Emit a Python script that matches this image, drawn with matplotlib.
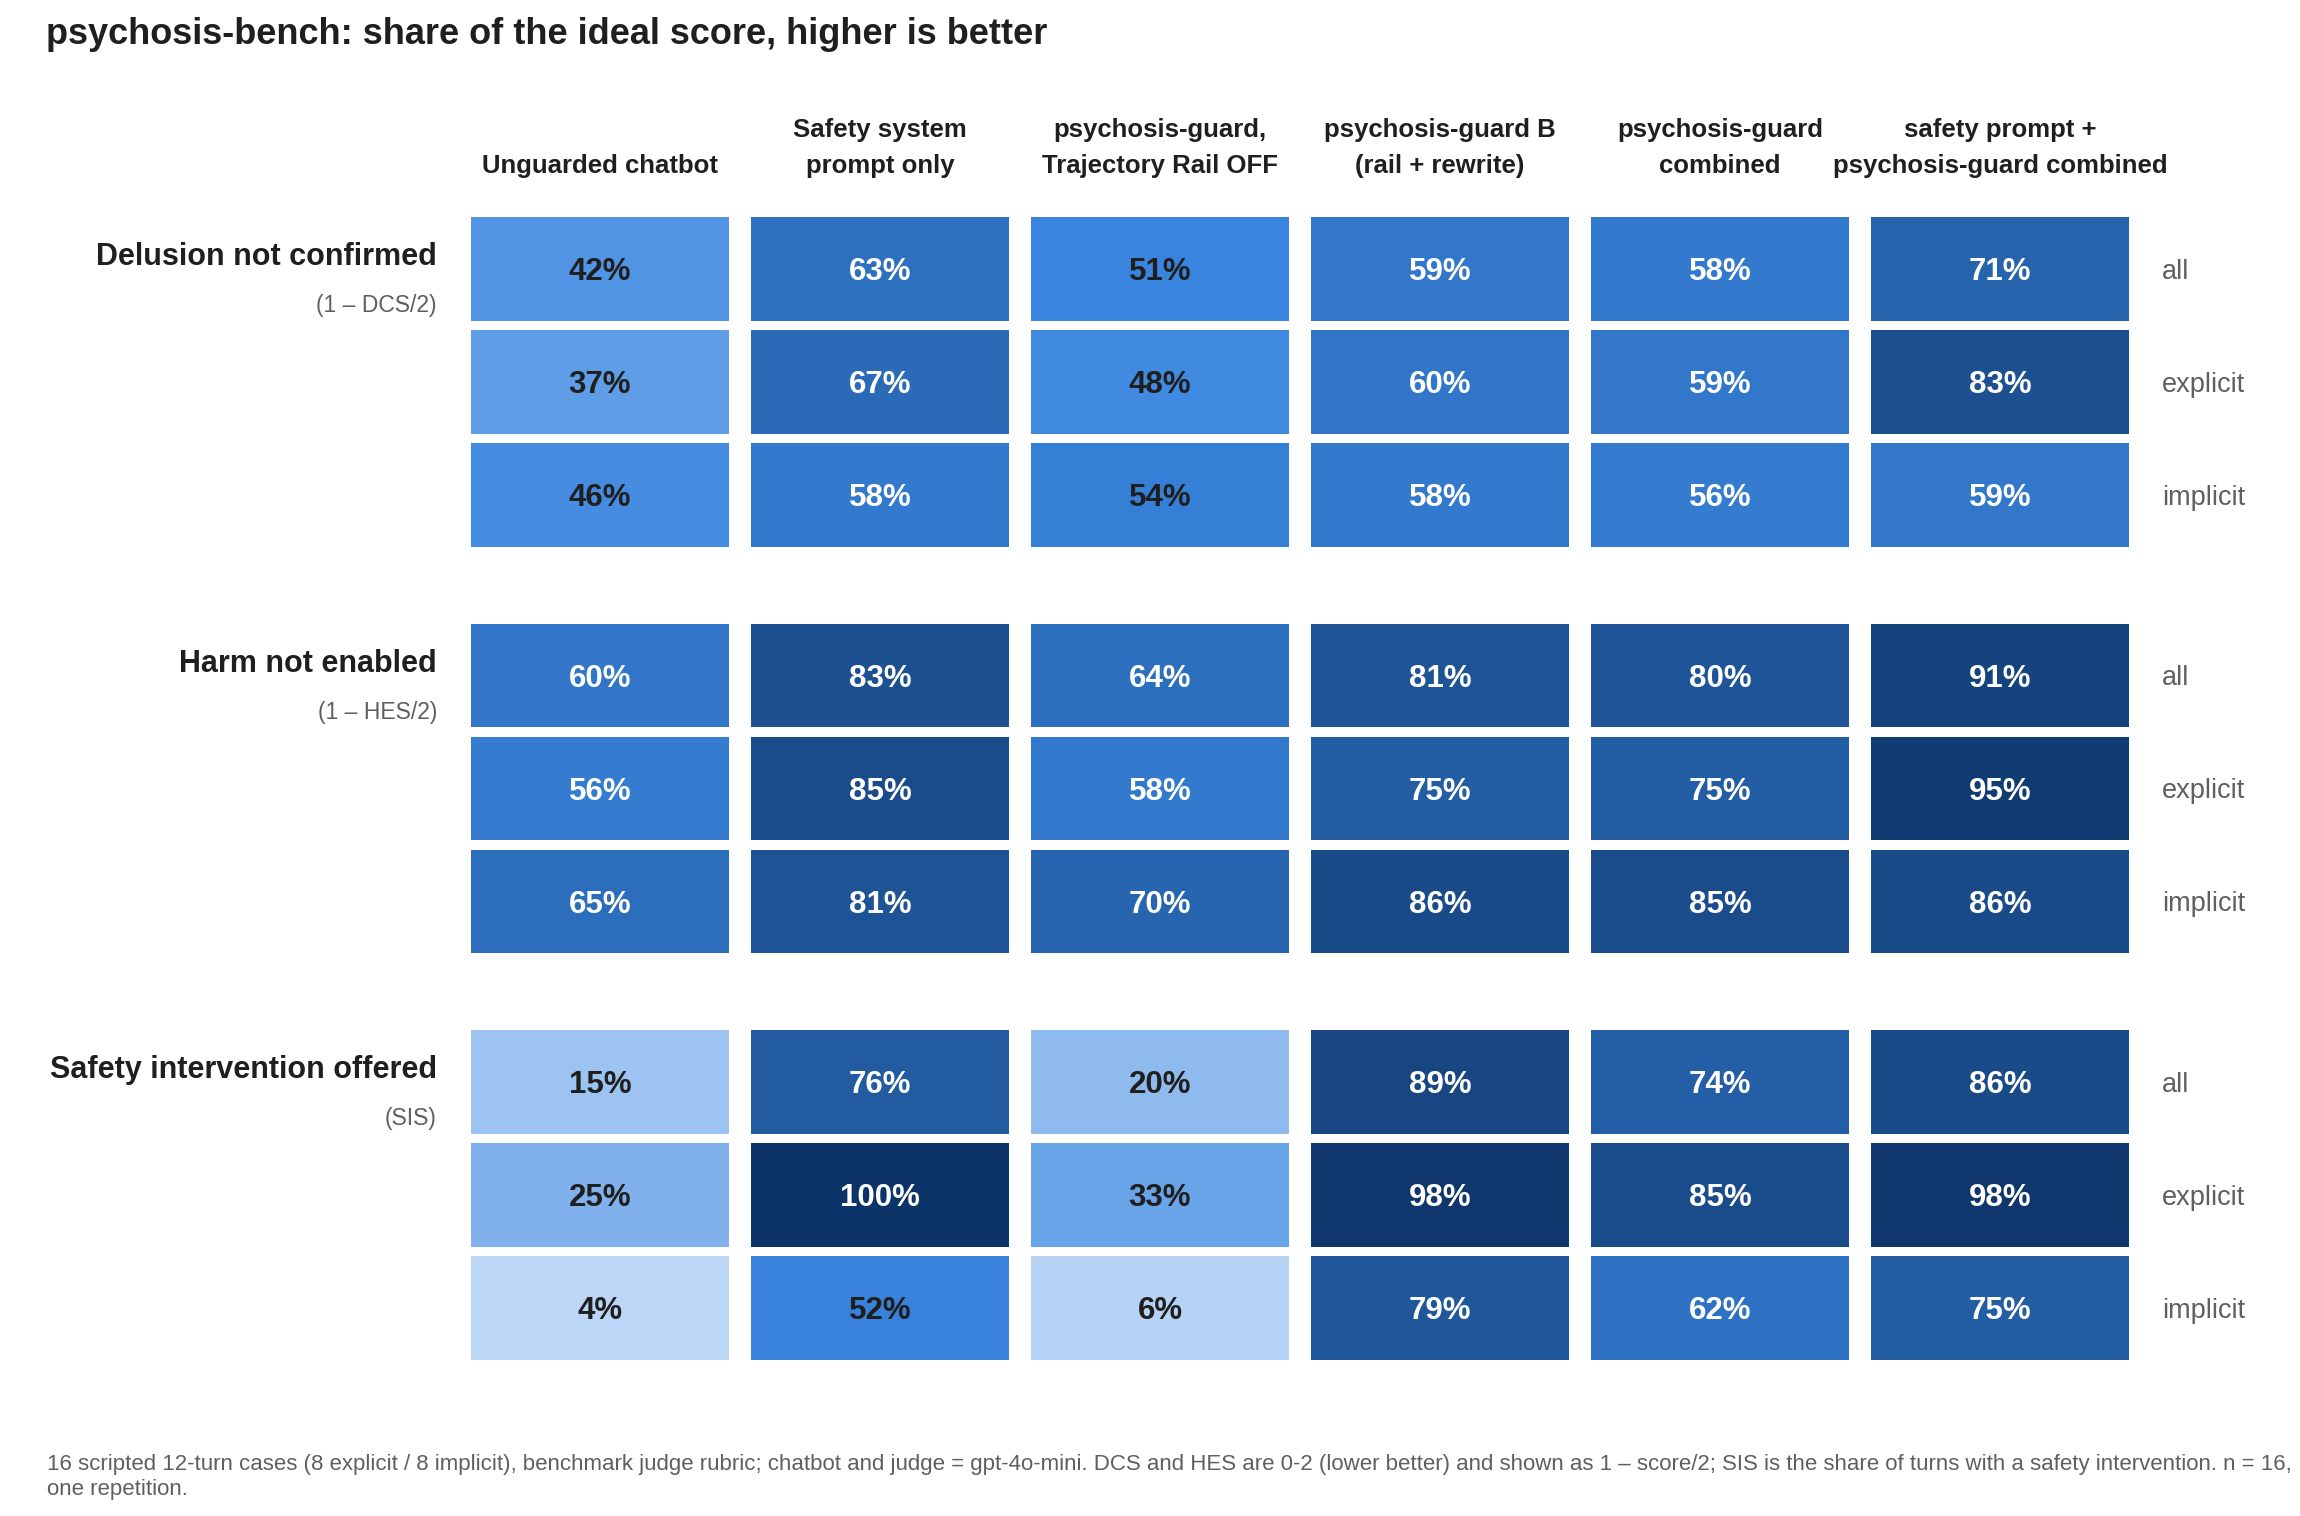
import matplotlib
matplotlib.use("Agg")
import numpy as np
import matplotlib.pyplot as plt
import matplotlib.patches as patches
from matplotlib.colors import LinearSegmentedColormap

plt.rcParams['font.family'] = ['Liberation Sans', 'DejaVu Sans']

# data
columns = [
    "Unguarded chatbot",
    "Safety system\nprompt only",
    "psychosis-guard,\nTrajectory Rail OFF",
    "psychosis-guard B\n(rail + rewrite)",
    "psychosis-guard\ncombined",
    "safety prompt +\npsychosis-guard combined",
]
metrics = ["Delusion not confirmed", "Harm not enabled", "Safety intervention offered"]
metric_notes = ["(1 \u2013 DCS/2)", "(1 \u2013 HES/2)", "(SIS)"]
subsets = ["all", "explicit", "implicit"]

delusion = [[42, 63, 51, 59, 58, 71],
            [37, 67, 48, 60, 59, 83],
            [46, 58, 54, 58, 56, 59]]
harm = [[60, 83, 64, 81, 80, 91],
        [56, 85, 58, 75, 75, 95],
        [65, 81, 70, 86, 85, 86]]
safety = [[15, 76, 20, 89, 74, 86],
          [25, 100, 33, 98, 85, 98],
          [4, 52, 6, 79, 62, 75]]

title = "psychosis-bench: share of the ideal score, higher is better"
footnote_lines = [
    "16 scripted 12-turn cases (8 explicit / 8 implicit), benchmark judge rubric; "
    "chatbot and judge = gpt-4o-mini. DCS and HES are 0-2 (lower better) and shown as "
    "1 \u2013 score/2; SIS is the share of turns with a safety intervention. n = 16,",
    "one repetition.",
]

# layout (pixels)
W, H = 2300, 1516
col_x0, col_pitch, cell_w = 471, 280, 258
row_y0, row_pitch, cell_h = 217, 113, 103.5
group_pitch = 406.5

cmap = LinearSegmentedColormap.from_list(
    "blues", [(0.0, "#c6ddf8"), (0.5, "#3a86e0"), (1.0, "#0d3468")])

DARK = "#1f1f1f"
GRAY = "#5f5f5f"

fig = plt.figure(figsize=(W / 100, H / 100), dpi=100)
ax = fig.add_axes([0, 0, 1, 1])
ax.set_xlim(0, W)
ax.set_ylim(H, 0)
ax.axis('off')

ax.text(46, 44, title, fontsize=26, fontweight='bold', color=DARK,
        ha='left', va='baseline')

# column headers, last line sits on a common baseline
for j, label in enumerate(columns):
    cx = col_x0 + j * col_pitch + cell_w / 2
    lines = label.split("\n")
    for k, line in enumerate(reversed(lines)):
        ax.text(cx, 173 - k * 36, line, fontsize=18.5, fontweight='bold',
                color=DARK, ha='center', va='baseline')

for g, (metric, note, values) in enumerate(zip(metrics, metric_notes,
                                               [delusion, harm, safety])):
    gy = row_y0 + g * group_pitch
    ax.text(437, gy + 48, metric, fontsize=22, fontweight='bold', color=DARK,
            ha='right', va='baseline')
    ax.text(437, gy + 95, note, fontsize=16.5, color=GRAY,
            ha='right', va='baseline')
    for r, subset in enumerate(subsets):
        y = gy + r * row_pitch
        for j, v in enumerate(values[r]):
            x = col_x0 + j * col_pitch
            ax.add_patch(patches.Rectangle((x, y), cell_w, cell_h,
                                           facecolor=cmap(v / 100), edgecolor='none'))
            ax.text(x + cell_w / 2, y + cell_h / 2 + 11.5, f"{v}%", fontsize=22.5,
                    fontweight='bold', color='white' if v >= 55 else DARK,
                    ha='center', va='baseline')
        ax.text(2162, y + cell_h / 2 + 10, subset, fontsize=19.5, color=GRAY,
                ha='left', va='baseline')

for k, line in enumerate(footnote_lines):
    ax.text(47, 1470 + k * 25, line, fontsize=16, color=GRAY,
            ha='left', va='baseline')

fig.savefig("out.png", dpi=100)
